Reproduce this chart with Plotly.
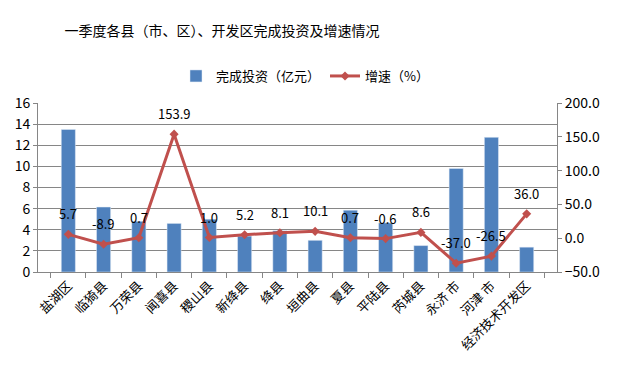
import plotly.graph_objects as go

categories = ["盐湖区", "临猗县", "万荣县", "闻喜县", "稷山县", "新绛县", "绛县", "垣曲县",
              "夏县", "平陆县", "芮城县", "永济 市", "河津 市", "经济技术开发区"]
investment = [13.5, 6.15, 4.8, 4.6, 5.0, 3.4, 3.9, 3.0, 5.85, 4.65, 2.5, 9.8, 12.75, 2.35]
growth = [5.7, -8.9, 0.7, 153.9, 1.0, 5.2, 8.1, 10.1, 0.7, -0.6, 8.6, -37.0, -26.5, 36.0]
growth_labels = [f"{v:.1f}" for v in growth]

font_family = "Noto Sans CJK SC, sans-serif"
bar_color = "#4F81BD"
line_color = "#C0504D"

W, H = 622, 360

fig = go.Figure()
fig.add_trace(go.Bar(
    x=categories, y=investment, name="完成投资（亿元）",
    marker=dict(color=bar_color), yaxis="y",
))
fig.add_trace(go.Scatter(
    x=categories, y=growth, name="增速（%）", yaxis="y2",
    mode="lines+markers",
    line=dict(color=line_color, width=3),
    marker=dict(symbol="diamond", size=7, color=line_color),
))
for c, v, t in zip(categories, growth, growth_labels):
    fig.add_annotation(x=c, y=v, xref="x", yref="y2", text=t, showarrow=False,
                       yanchor="bottom", yshift=9,
                       font=dict(size=13, color="black", family=font_family))

fig.update_layout(
    width=W, height=H,
    margin=dict(l=30, r=73, t=95, b=96),
    paper_bgcolor="white", plot_bgcolor="white",
    font=dict(family=font_family, size=12, color="black"),
    title=dict(text="一季度各县（市、区）、开发区完成投资及增速情况",
               x=(222 - 8) / W, xanchor="center", yref="container",
               y=1 - 23 / H, yanchor="middle",
               font=dict(size=14, color="black", family=font_family)),
    legend=dict(orientation="h", xref="container", x=(305 - 8) / W, xanchor="center",
                yref="container", y=1 - 68 / H, yanchor="middle",
                font=dict(size=13, family=font_family), traceorder="normal"),
    bargap=0.6,
    showlegend=True,
    xaxis=dict(tickangle=-45, showline=True, linecolor="#868686", automargin=False,
               ticks="outside", ticklen=5, tickcolor="#868686",
               tickson="boundaries", tickfont=dict(size=13, family=font_family)),
    yaxis=dict(range=[0, 16], dtick=2, showgrid=True, gridcolor="#868686", automargin=False,
               showline=True, linecolor="#868686", ticks="outside", ticklen=4,
               tickcolor="#868686", zeroline=False, tickfont=dict(size=14)),
    yaxis2=dict(range=[-50, 200], dtick=50, overlaying="y", side="right", automargin=False,
                showgrid=False, showline=True, linecolor="#868686", ticks="outside",
                ticklen=4, tickcolor="#868686", zeroline=False, tickformat=".1f",
                tickfont=dict(size=14)),
)

fig.write_html("out.html")
